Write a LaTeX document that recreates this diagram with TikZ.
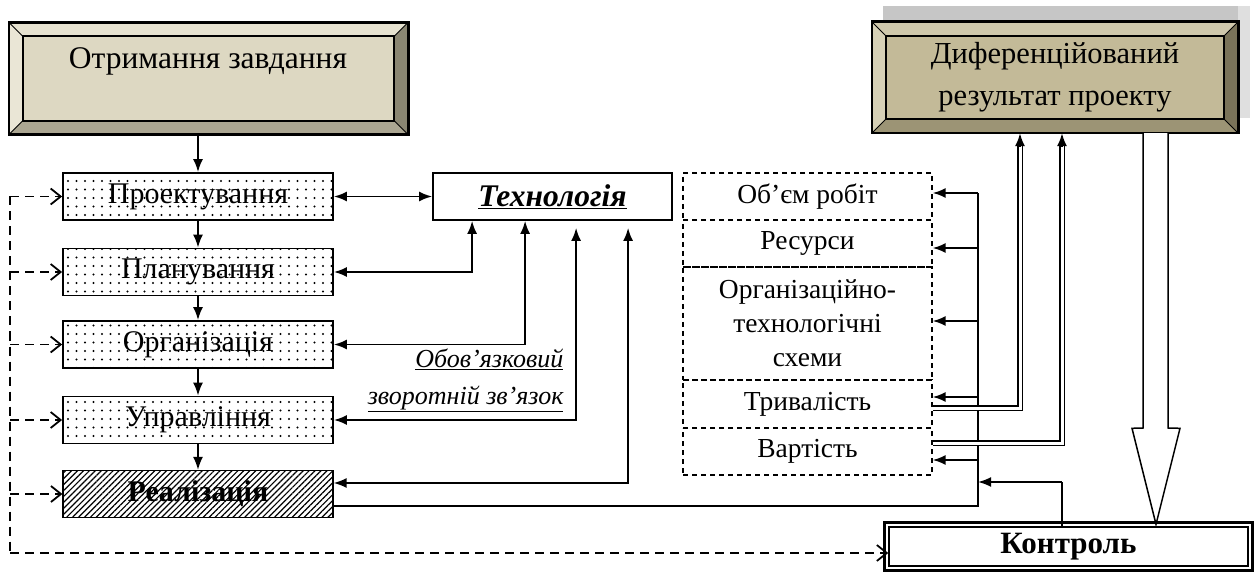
\documentclass[tikz,border=0pt]{standalone}
\usepackage{fontspec}
\setmainfont{Liberation Serif}
\usetikzlibrary{arrows.meta,patterns.meta,calc}
\definecolor{tInner}{HTML}{DDD8C2}
\definecolor{tTop}{HTML}{E6E2D0}
\definecolor{tLeft}{HTML}{EAE6D6}
\definecolor{tRight}{HTML}{8A8672}
\definecolor{tBot}{HTML}{ABA692}
\definecolor{rInner}{HTML}{C3BA98}
\definecolor{rTop}{HTML}{CFC8AC}
\definecolor{rLeft}{HTML}{D6D0B6}
\definecolor{rRight}{HTML}{7A7359}
\definecolor{rBot}{HTML}{9C9475}
\newcommand\bevelframe[6]{%
  \fill[#3] (#1.north west) -- (#1.north east) -- ($(#1.north east)+(-#2,#2)$) -- ($(#1.north west)+(#2,#2)$) -- cycle;
  \fill[#4] (#1.north west) -- ($(#1.north west)+(#2,#2)$) -- ($(#1.south west)+(#2,-#2)$) -- (#1.south west) -- cycle;
  \fill[#5] (#1.north east) -- (#1.south east) -- ($(#1.south east)+(-#2,-#2)$) -- ($(#1.north east)+(-#2,#2)$) -- cycle;
  \fill[#6] (#1.south west) -- (#1.south east) -- ($(#1.south east)+(-#2,-#2)$) -- ($(#1.south west)+(#2,-#2)$) -- cycle;
  \draw[line width=1pt] (#1.north west) -- ($(#1.north west)+(#2,#2)$)
    (#1.north east) -- ($(#1.north east)+(-#2,#2)$)
    (#1.south west) -- ($(#1.south west)+(#2,-#2)$)
    (#1.south east) -- ($(#1.south east)+(-#2,-#2)$);
  \draw[line width=2pt] ($(#1.north west)+(#2,#2)$) rectangle ($(#1.south east)+(-#2,-#2)$);
  \draw[line width=2.6pt] (#1.north west) rectangle (#1.south east);
}
\begin{document}
\begin{tikzpicture}[x=1pt,y=-1pt,
  font=\fontsize{30}{34}\selectfont,
  ln/.style={line width=1.8pt},
  arr/.style={ln,-{Latex[length=13pt,width=10pt]}},
  darr/.style={ln,{Latex[length=13pt,width=10pt]}-{Latex[length=13pt,width=10pt]}},
  dsh/.style={line width=1.8pt, dash pattern=on 9pt off 6pt},
  darrow/.style={dsh,-{Straight Barb[length=10pt,width=16pt,line width=1.8pt]}},
  stagebox/.style={draw, line width=1.8pt, minimum width=270pt, minimum height=47pt, inner sep=0pt,
     pattern={Dots[distance=8.5pt,radius=1.1pt]}},
  cellbox/.style={draw, line width=1.4pt, dash pattern=on 5pt off 4pt, minimum width=249pt, inner sep=0pt,
     font=\fontsize{27.5}{34}\selectfont, align=center},
  dbl/.style={line width=1.4pt, double=white, double distance=3pt},
]
\useasboundingbox (0,0) rectangle (1254,572);

% top-left bevel box
\node[fill=tInner, minimum width=399pt, minimum height=112pt, inner sep=0pt] (task) at (208.5,78.5) {};
\bevelframe{task}{14}{tTop}{tLeft}{tRight}{tBot}
\node[font=\fontsize{31.5}{36}\selectfont] (tasktxt) at (208,61) {Отримання завдання};

% right bevel box with shadow
\fill[gray!45] (883,6) rectangle (1250,118);
\fill[gray!25] (1238,6) -- (1250,6) -- (1250,118) -- (1238,118) -- cycle;
\node[fill=rInner, minimum width=366pt, minimum height=111pt, inner sep=0pt] (res) at (1055,77.5) {};
\bevelframe{res}{14}{rTop}{rLeft}{rRight}{rBot}
\node[font=\fontsize{30.5}{42}\selectfont, align=center] (restxt) at (1055,77) {Диференційований\\результат проекту};

% stages
\node[stagebox] (proj) at (198,196.5) {Проектування};
\node[stagebox] (plan) at (198,272) {Планування};
\node[stagebox] (org)  at (198,344.5) {Організація};
\node[stagebox] (upr)  at (198,420) {Управління};
\node[draw, line width=1.8pt, minimum width=270pt, minimum height=47pt, inner sep=0pt,
      pattern={Lines[angle=45,distance=4.2pt,line width=1.2pt]}] (real) at (198,494) {\textbf{Реалізація}};

\draw[arr] (task.south -| proj.north) -- (proj.north);
\draw[arr] (proj) -- (plan);
\draw[arr] (plan) -- (org);
\draw[arr] (org) -- (upr);
\draw[arr] (upr) -- (real);

% technology
\node[draw, line width=1.8pt, minimum width=239pt, minimum height=47pt, inner sep=0pt, font=\fontsize{31.5}{34}\selectfont]
  (tech) at (552.5,196.5) {\textbf{\textit{\underline{Технологія}}}};
\draw[darr] (proj) -- (tech);
\draw[darr] (plan.east) -| ($(tech.south west)+(40,0)$);
\draw[darr] (org.east) -| ($(tech.south west)+(93,0)$);
\draw[darr] (upr.east) -| ($(tech.south west)+(144,7)$);
\draw[darr] ([yshift=11pt]real.east) -| ($(tech.south west)+(196,7)$);
\node[anchor=east, align=right, font=\fontsize{26}{37}\selectfont\itshape] (fb) at (567,380)
  {\underline{Обов’язковий}\\\underline{зворотній зв’язок}};

% parameter column
\node[cellbox, minimum height=47pt] (c1) at (807.5,196.5) {Об’єм робіт};
\node[cellbox, minimum height=47pt] (c2) at (807.5,243.5) {Ресурси};
\node[cellbox, minimum height=113pt] (c3) at (807.5,323.5) {Організаційно-\\технологічні\\схеми};
\node[cellbox, minimum height=48pt] (c4) at (807.5,404) {Тривалість};
\node[cellbox, minimum height=47pt] (c5) at (807.5,451.5) {Вартість};

% feedback from realization to parameters
\coordinate (vt) at (978,193);
\coordinate (vb) at (978,506);
\draw[ln] ([yshift=-12pt]real.east) -- (vb) -- (vt);
\draw[arr] (vt) -- (vt -| c1.east);
\coordinate (v2) at (978,248);
\draw[arr] (v2) -- (v2 -| c2.east);
\coordinate (v3) at (978,321);
\draw[arr] (v3) -- (v3 -| c3.east);
\coordinate (v4) at (978,397);
\draw[arr] (v4) -- (v4 -| c4.east);
\coordinate (v5) at (978,460);
\draw[arr] (v5) -- (v5 -| c5.east);

% control box
\node[draw, line width=1.4pt, minimum width=359pt, minimum height=39pt, inner sep=0pt,
      font=\fontsize{31}{34}\selectfont\bfseries] (kontr) at (1068.5,546.5) {Контроль};
\draw[line width=2.8pt] ([xshift=-3.5pt,yshift=3.5pt]kontr.north west) rectangle ([xshift=3.5pt,yshift=-3.5pt]kontr.south east);

% double arrows to result
\coordinate (d1) at (1020,408);
\coordinate (d2) at (1062,443);
\draw[dbl] (d1 -| c4.east) -- (d1) -- ($(d1 |- res.south)+(0,11)$);
\draw[arr] ($(d1 |- res.south)+(0,14)$) -- (d1 |- res.south);
\draw[dbl] (d2 -| c5.east) -- (d2) -- ($(d2 |- res.south)+(0,11)$);
\draw[arr] ($(d2 |- res.south)+(0,14)$) -- (d2 |- res.south);

% control to parameters
\coordinate (k1) at (1062,482);
\draw[ln] (k1 |- kontr.north) -- (k1);
\draw[arr] (k1) -- (k1 -| vt);

% big hollow arrow
\coordinate (h1) at ($(res.south)+(88,0)$);
\coordinate (h2) at ($(res.south)+(113,0)$);
\coordinate (htip) at ($(kontr.north)+(87.5,-2)$);
\draw[line width=1.5pt, fill=white] (h1) -- (h1 |- 0,428) -- ($(htip)+(-24,-96)$) -- (htip) -- ($(htip)+(24,-96)$) -- (h2 |- 0,428) -- (h2);

% dashed feedback from control
\coordinate (dtop) at (10,196.5);
\coordinate (dbot) at (10,553);
\draw[dsh] (dtop) -- (dbot);
\draw[darrow] (dbot) -- (dbot -| kontr.west);
\draw[darrow] (dtop) -- (proj.west);
\draw[darrow] (dtop |- plan.west) -- (plan.west);
\draw[darrow] (dtop |- org.west) -- (org.west);
\draw[darrow] (dtop |- upr.west) -- (upr.west);
\draw[darrow] (dtop |- real.west) -- (real.west);
\end{tikzpicture}
\end{document}
